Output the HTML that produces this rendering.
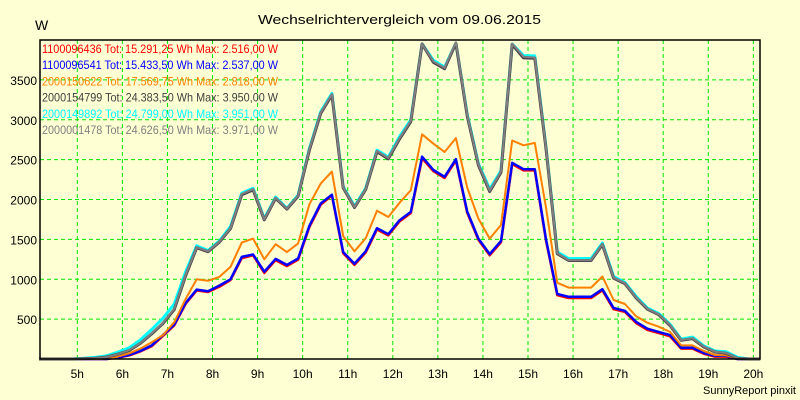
<!DOCTYPE html>
<html><head><meta charset="utf-8"><style>
html,body{margin:0;padding:0;background:#ffffd4;}
svg{display:block;font-family:"Liberation Sans",sans-serif;}
</style></head><body>
<svg id="chart" width="800" height="400" xmlns="http://www.w3.org/2000/svg">
<rect x="0" y="0" width="800" height="400" fill="#ffffd4"/>
<text x="258" y="24" font-size="13" textLength="283" lengthAdjust="spacingAndGlyphs" fill="#000">Wechselrichtervergleich vom 09.06.2015</text>
<text x="35" y="30" font-size="14" fill="#000">W</text>
<g id="grid"></g>
<g id="series"></g>
<rect x="40" y="40" width="720" height="319" fill="none" stroke="#000" stroke-width="1.5"/>
<g id="legend"></g>
<g id="axes"></g>
<text x="796" y="394" text-anchor="end" font-size="11" fill="#000">SunnyReport pinxit</text>
</svg>
<script>
const hourTicks = [5,6,7,8,9,10,11,12,13,14,15,16,17,18,19,20];
const valueTicks = [500,1000,1500,2000,2500,3000,3500];
const startHour = 4.15;
const stepHours = 0.25;
const seriesGray = [0,0,0,0,5,10,25,60,110,200,320,450,630,1050,1400,1350,1470,1640,2070,2130,1750,2020,1885,2045,2630,3090,3320,2150,1905,2130,2610,2520,2770,2985,3950,3730,3650,3971,3060,2440,2110,2350,3955,3790,3780,2650,1325,1240,1240,1240,1440,1020,950,770,630,560,425,238,260,155,90,75,10,0,0];
const seriesDark = [0,0,0,0,5,10,25,60,105,195,315,445,620,1040,1395,1345,1465,1635,2060,2120,1745,2015,1880,2040,2620,3080,3310,2145,1900,2125,2600,2510,2760,2975,3950,3720,3640,3960,3050,2430,2100,2340,3945,3775,3770,2640,1320,1235,1235,1235,1435,1015,945,765,625,555,420,235,255,150,88,72,8,0,0];
const seriesCyan = [0,0,0,0,10,20,40,85,140,240,370,510,690,1090,1420,1360,1480,1660,2080,2140,1760,2030,1890,2055,2640,3100,3330,2160,1915,2140,2620,2530,2790,3000,3951,3745,3660,3960,3070,2450,2130,2360,3950,3805,3800,2660,1340,1260,1260,1260,1455,1035,960,785,640,570,435,250,275,165,100,90,20,0,0];
const seriesOrange = [0,0,0,0,0,0,5,30,70,130,210,300,460,750,1000,980,1030,1155,1460,1510,1250,1440,1340,1450,1940,2200,2350,1540,1350,1515,1860,1780,1960,2115,2818,2700,2595,2770,2150,1760,1510,1680,2740,2680,2710,1900,955,895,895,895,1035,740,690,535,455,405,340,170,170,100,50,45,5,0,0];
const seriesBlue = [0,0,0,0,0,0,0,20,50,100,170,300,430,700,870,850,920,1000,1280,1310,1095,1255,1180,1260,1670,1950,2060,1340,1195,1350,1640,1565,1740,1845,2537,2370,2285,2505,1850,1510,1315,1480,2460,2380,2380,1500,815,780,780,780,875,640,605,465,380,340,300,140,140,75,40,40,0,0,0];
const seriesRed = [0,0,0,0,0,0,0,15,45,95,160,290,420,690,860,840,905,990,1265,1300,1080,1240,1165,1245,1655,1935,2050,1325,1180,1335,1625,1550,1725,1830,2516,2355,2270,2490,1835,1495,1300,1465,2445,2365,2365,1485,800,765,765,765,860,625,590,450,365,325,285,130,130,65,30,30,0,0,0];
const legendLabels = ["1100096436 Tot: 15.291,25 Wh Max: 2.516,00 W","1100096541 Tot: 15.433,50 Wh Max: 2.537,00 W","2000150622 Tot: 17.569,75 Wh Max: 2.818,00 W","2000154799 Tot: 24.383,50 Wh Max: 3.950,00 W","2000149892 Tot: 24.799,00 Wh Max: 3.951,00 W","2000001478 Tot: 24.626,50 Wh Max: 3.971,00 W"];

const NS = "http://www.w3.org/2000/svg";
const X0 = 40, X1 = 760, Y0 = 359, Y1 = 40;
function xScale(h){ return 77.3 + (h - 5) * 45.07; }
function yScale(v){ return Y0 - v * (Y0 - Y1) / 4000; }

const grid = document.getElementById('grid');
const axes = document.getElementById('axes');
hourTicks.forEach(h => {
  const x = xScale(h);
  const l = document.createElementNS(NS,'line');
  
  
  l.setAttribute('x1', x); l.setAttribute('x2', x);
  l.setAttribute('y1', Y1); l.setAttribute('y2', Y0);
  l.setAttribute('stroke', '#00e600'); l.setAttribute('stroke-dasharray', '4,3');
  grid.appendChild(l);
  const t = document.createElementNS(NS,'text');
  
  
  t.setAttribute('x', x); t.setAttribute('y', 378);
  t.setAttribute('text-anchor', 'middle'); t.setAttribute('font-size', '12');
  t.textContent = h + 'h';
  axes.appendChild(t);
});
valueTicks.forEach(v => {
  const y = yScale(v);
  const l = document.createElementNS(NS,'line');
  
  
  l.setAttribute('x1', X0); l.setAttribute('x2', X1);
  l.setAttribute('y1', y); l.setAttribute('y2', y);
  l.setAttribute('stroke', '#00e600'); l.setAttribute('stroke-dasharray', '4,3');
  grid.appendChild(l);
  const t = document.createElementNS(NS,'text');
  
  
  t.setAttribute('x', 37); t.setAttribute('y', y + 5);
  t.setAttribute('text-anchor', 'end'); t.setAttribute('font-size', '12');
  t.textContent = v;
  axes.appendChild(t);
});

const seriesG = document.getElementById('series');
function drawLine(vals, color, width, name){
  const pts = vals.map((v,i) => xScale(startHour + i*stepHours).toFixed(1) + ',' + yScale(v).toFixed(1)).join(' ');
  const p = document.createElementNS(NS,'polyline');
  
  
  p.setAttribute('points', pts);
  p.setAttribute('fill', 'none'); p.setAttribute('stroke', color);
  p.setAttribute('stroke-width', width); p.setAttribute('stroke-linejoin', 'round');
  seriesG.appendChild(p);
}
drawLine(seriesRed, '#ff0000', 2.5, 'line-1100096436');
drawLine(seriesBlue, '#0000ff', 2.5, 'line-1100096541');
drawLine(seriesOrange, '#ff8000', 2, 'line-2000150622');
drawLine(seriesCyan, '#00ffff', 3, 'line-2000149892');
drawLine(seriesDark, '#4a404a', 3, 'line-2000154799');
drawLine(seriesGray, '#808080', 2, 'line-2000001478');

const legendColors = ['#ff0000','#0000ff','#ff8000','#404040','#00ffff','#808080'];
const legend = document.getElementById('legend');
legendLabels.forEach((s,i) => {
  const t = document.createElementNS(NS,'text');
  
  
  t.setAttribute('x', 42); t.setAttribute('y', 53 + i*16.2);
  t.setAttribute('font-size', '12'); t.setAttribute('fill', legendColors[i]);
  t.setAttribute('textLength', '236'); t.setAttribute('lengthAdjust', 'spacingAndGlyphs');
  t.textContent = s;
  legend.appendChild(t);
});
</script>
</body></html>
